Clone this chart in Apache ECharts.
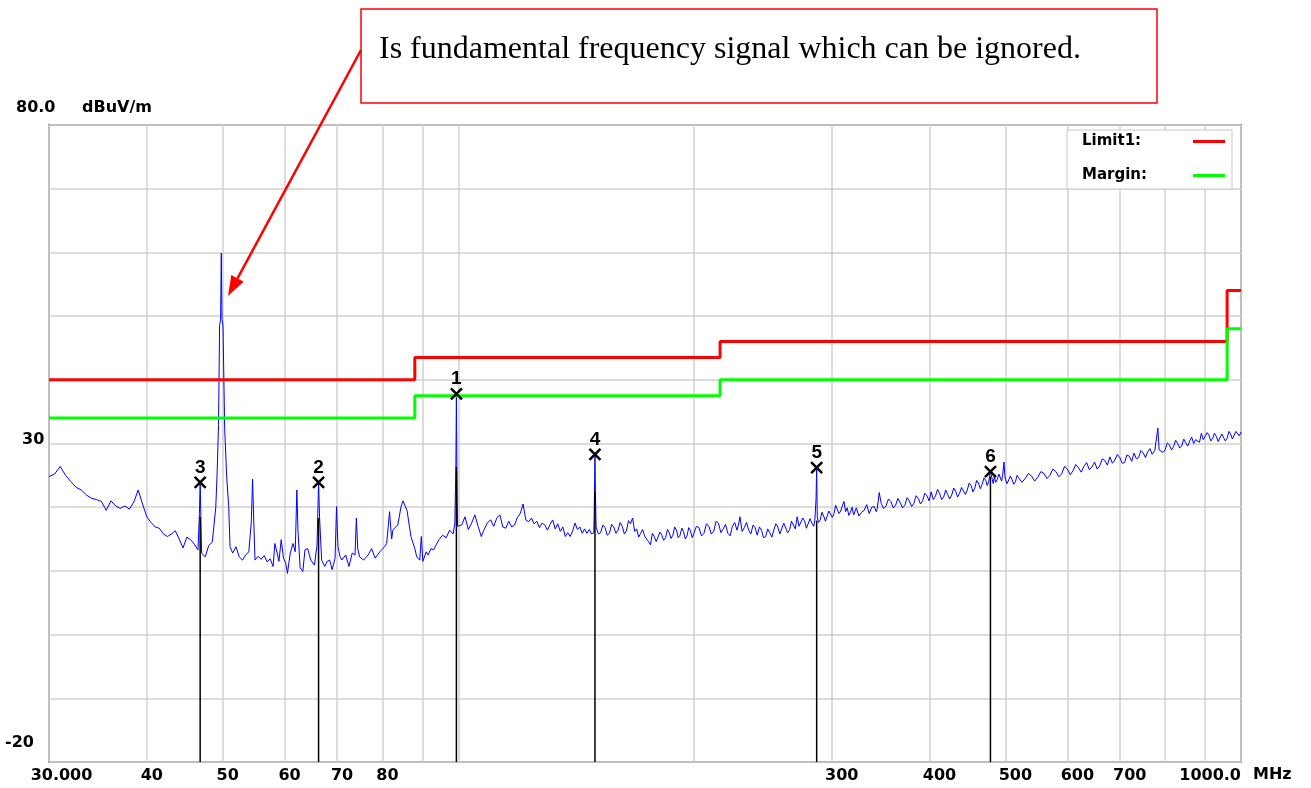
<!DOCTYPE html>
<html>
<head>
<meta charset="utf-8">
<title>Radiated emission scan 30 - 1000 MHz</title>
<script src="https://cdn.jsdelivr.net/npm/echarts@6.0.0/dist/echarts.min.js"></script>
<style>
  html, body { margin: 0; padding: 0; background: #fff; }
  #chart { width: 1311px; height: 788px; }
</style>
</head>
<body>
<div id="chart"></div>
<script>
// axis ticks
const gridFreq = [30, 40, 50, 60, 70, 80, 90, 100, 200, 300, 400, 500, 600, 700, 800, 900, 1000]
const labelFreq = [30, 40, 50, 60, 70, 80, 300, 400, 500, 600, 700, 1000]
const levelLabels = [-20, 30, 80]

// limit line (FCC class B, 3 m) and the 6 dB margin line
const limitFreq = [30, 88, 216, 960, 1000]
const limitLevel = [40, 43.5, 46, 54, 54]
const marginLevel = [34, 37.5, 40, 48, 48]

const traceFreq = [
  30, 30.5, 31, 31.5, 32, 32.5, 33, 33.5, 34, 34.5,
  35, 35.5, 36, 36.5, 37, 37.5, 38, 38.5, 39, 39.5,
  40, 40.5, 41, 41.5, 42, 42.5, 43, 43.5, 44, 44.5,
  45, 45.5, 46, 46.5, 46.7, 46.8, 46.9, 47, 47.5, 48,
  48.5, 49, 49.2, 49.4, 49.55, 49.7, 49.8, 49.9, 50.05, 50.3,
  50.6, 50.9, 51.1, 51.5, 52, 52.5, 53, 53.5, 54, 54.4,
  54.6, 54.8, 55, 55.5, 56, 56.5, 57, 57.5, 58, 58.3,
  58.7, 59, 59.4, 59.8, 60.2, 60.5, 61, 61.5, 61.9, 62.2,
  62.4, 62.8, 63.3, 63.7, 64.2, 64.8, 65.5, 66, 66.3, 66.5,
  66.9, 67.5, 68, 68.5, 69, 69.6, 69.9, 70.2, 70.6, 71,
  71.8, 72.5, 73.2, 73.8, 74.1, 74.4, 74.8, 75.7, 76.7, 77.5,
  78.3, 79.4, 80.5, 81, 81.7, 82.2, 82.5, 83, 83.7, 84.5,
  85, 85.4, 86, 86.3, 87, 88, 88.5, 89.3, 89.7, 90.1,
  91, 91.5, 92.3, 93, 93.6, 94.5, 95.5, 96.5, 97.5, 98.5,
  99, 99.3, 99.45, 99.6, 99.8, 100, 101, 102, 103, 104,
  105, 106, 107, 108, 109, 110, 111, 112, 113, 114,
  115, 116, 117, 118, 119, 120, 121, 122, 123, 124,
  125, 126, 127, 128, 129, 130, 131, 132, 133, 134,
  135, 136, 137, 138, 139, 140, 141, 142, 143, 144,
  145, 146, 147, 148, 149, 149.3, 149.5, 149.7, 150, 151,
  152, 153, 154, 155, 156, 157, 158, 159, 160, 161,
  162, 163, 164, 165, 166, 167, 168, 169, 170, 171,
  172, 173, 174, 175, 176, 177, 178, 179, 180, 181,
  182, 183, 184, 185, 186, 187, 188, 189, 190, 191,
  192, 193, 194, 195, 196, 197, 198, 199, 200, 201.5,
  203, 204.5, 206, 207.5, 209, 210.5, 212, 213.5, 215, 216.5,
  218, 219.5, 221, 222.5, 224, 225.5, 227, 228, 229, 230.5,
  232, 233.5, 235, 236.5, 238, 239.5, 241, 242.5, 244, 245.5,
  247, 248.5, 250, 251.5, 253, 254.5, 256, 257.5, 259, 260.5,
  262, 263.5, 265, 266.5, 268, 269.5, 271, 272.5, 274, 275.5,
  277, 278.5, 280, 281.5, 283, 284.5, 285.5, 286.5, 287, 287.5,
  288.5, 290, 291.5, 293, 294.5, 296, 297.5, 299, 300.5, 302,
  303.5, 305, 306.5, 308, 309.5, 311, 312.5, 314, 315.5, 317,
  318.5, 320, 322.5, 325, 327.5, 330, 332.5, 335, 337.5, 340,
  342, 343, 345, 347, 349.5, 352, 354.5, 357, 359.5, 362,
  364.5, 367, 369.5, 372, 374.5, 377, 379.5, 382, 384.5, 387,
  389.5, 392, 394.5, 397, 399.5, 402, 404.5, 407, 409.5, 412,
  414.5, 417, 419.5, 422, 424.5, 427, 429.5, 432, 434.5, 437,
  439.5, 442, 444.5, 447, 449.5, 452, 454.5, 457, 459.5, 462,
  464.5, 467, 469.5, 472, 474, 476, 478.5, 481, 482.5, 484,
  486, 488, 490.5, 493, 494.5, 496, 498, 499, 500, 502.5,
  505, 507.5, 510, 512.5, 515, 517.5, 520, 525, 530, 535,
  540, 545, 550, 555, 560, 565, 570, 575, 580, 585,
  590, 595, 600, 605, 610, 615, 620, 625, 630, 635,
  640, 645, 650, 655, 660, 665, 670, 675, 680, 685,
  690, 695, 700, 705, 710, 715, 720, 725, 730, 735,
  740, 745, 750, 755, 760, 765, 770, 776, 780, 783,
  786, 790, 795, 800, 805, 810, 815, 820, 825, 830,
  835, 840, 845, 850, 855, 860, 865, 870, 875, 880,
  885, 890, 895, 900, 905, 910, 915, 920, 925, 930,
  935, 940, 945, 950, 955, 960, 965, 970, 975, 980,
  985, 990, 995, 1000
]
const traceLevel = [
  24.8, 25.2, 26.4, 25.0, 24.0, 23.1, 22.7, 21.9, 21.4, 21.2,
  20.9, 19.5, 21.0, 20.2, 19.8, 20.2, 19.7, 20.8, 22.7, 20.5,
  18.5, 17.6, 16.9, 16.7, 15.8, 15.4, 15.8, 16.3, 15.0, 13.6,
  15.3, 14.9, 14.2, 13.3, 19.0, 23.9, 18.5, 12.8, 12.2, 14.0,
  14.5, 20.0, 25.5, 33.0, 48.5, 49.5, 59.9, 49.5, 48.5, 32.4,
  24.8, 20.1, 13.8, 12.8, 13.8, 12.2, 11.7, 12.5, 13.0, 17.7,
  24.4, 17.5, 11.7, 12.3, 11.8, 12.4, 11.4, 11.9, 10.7, 14.3,
  12.8, 11.5, 14.9, 12.0, 11.2, 9.6, 12.8, 14.3, 13.0, 22.7,
  16.4, 10.5, 9.9, 13.3, 13.5, 11.7, 10.9, 14.0, 23.9, 18.3,
  11.7, 10.7, 11.5, 11.7, 10.2, 12.0, 20.1, 13.8, 12.3, 11.7,
  12.5, 10.7, 12.8, 12.5, 18.3, 13.5, 12.2, 11.7, 12.5, 13.5,
  12.0, 13.0, 13.8, 14.3, 19.3, 15.0, 16.4, 16.8, 17.2, 20.1,
  21.0, 21.1, 19.5, 18.3, 15.4, 13.5, 12.2, 11.7, 15.4, 11.5,
  13.0, 12.5, 13.5, 13.3, 14.0, 14.9, 15.6, 15.2, 16.4, 15.8,
  17.5, 26.3, 37.8, 26.0, 17.0, 16.9, 17.2, 18.5, 16.5, 17.5,
  18.8, 17.0, 15.4, 16.6, 17.6, 18.0, 17.0, 18.3, 18.8, 16.9,
  16.7, 17.8, 16.9, 17.2, 18.4, 19.0, 20.5, 18.0, 17.7, 18.3,
  17.4, 17.8, 16.8, 17.5, 17.2, 16.4, 17.3, 18.0, 16.6, 17.4,
  16.2, 16.9, 15.4, 16.0, 15.4, 16.3, 17.5, 16.5, 16.9, 15.9,
  16.6, 15.9, 16.5, 15.8, 16.0, 22.4, 28.3, 22.4, 16.9, 15.8,
  16.0, 17.2, 16.8, 15.6, 15.9, 17.3, 16.9, 15.9, 16.4, 17.6,
  17.0, 15.8, 16.3, 17.9, 17.4, 18.3, 16.2, 16.6, 15.3, 15.9,
  16.5, 15.5, 15.0, 14.6, 14.1, 15.9, 15.4, 14.6, 14.9, 16.1,
  15.6, 14.8, 15.2, 16.5, 16.0, 15.1, 15.6, 16.9, 16.4, 15.2,
  15.6, 16.7, 16.2, 15.0, 15.5, 16.8, 16.3, 15.2, 15.9, 17.0,
  16.8, 15.5, 15.9, 17.4, 17.0, 15.8, 16.2, 17.8, 17.5, 16.0,
  16.6, 17.3, 15.9, 15.5, 17.0, 17.6, 16.4, 17.2, 18.5, 16.2,
  16.8, 17.6, 16.4, 15.8, 17.2, 16.8, 15.6, 16.9, 16.4, 15.2,
  15.4, 16.6, 16.0, 15.3, 16.4, 17.4, 16.9, 15.8, 16.1, 17.5,
  17.2, 16.0, 16.4, 17.8, 17.6, 16.6, 18.5, 17.0, 17.2, 18.3,
  17.8, 16.7, 17.0, 18.2, 17.5, 17.0, 18.0, 21.4, 26.2, 18.5,
  17.6, 18.0, 19.2, 18.6, 17.8, 18.0, 19.4, 19.6, 18.4, 19.0,
  20.3, 20.2, 19.0, 19.4, 20.2, 20.9, 19.3, 19.9, 18.7, 19.2,
  20.0, 18.8, 19.9, 18.6, 19.2, 19.5, 20.4, 19.0, 20.0, 20.1,
  19.3, 19.8, 22.3, 20.6, 19.8, 20.2, 21.3, 20.9, 19.9, 20.3,
  21.4, 20.7, 19.9, 20.3, 21.5, 21.0, 20.1, 20.6, 21.8, 21.4,
  20.5, 21.0, 22.2, 21.8, 21.0, 22.4, 21.2, 21.7, 22.8, 22.2,
  21.2, 21.6, 22.7, 22.0, 21.3, 21.9, 23.0, 22.5, 21.6, 22.2,
  23.1, 23.2, 22.0, 22.7, 23.8, 23.4, 22.4, 23.0, 24.2, 23.8,
  22.9, 23.6, 24.6, 24.2, 23.4, 24.0, 25.6, 24.4, 23.7, 24.8,
  23.9, 24.3, 25.2, 24.9, 24.1, 25.0, 27.1, 25.2, 24.4, 23.7,
  24.0, 24.9, 24.3, 23.6, 24.0, 25.0, 24.6, 23.9, 24.5, 25.3,
  24.9, 24.1, 24.7, 25.6, 25.3, 24.5, 25.0, 26.0, 25.6, 24.8,
  25.2, 26.4, 26.0, 25.1, 25.7, 26.7, 26.2, 25.5, 26.4, 27.0,
  25.9, 26.3, 27.1, 26.0, 26.5, 27.6, 27.3, 26.6, 27.9, 26.9,
  27.4, 28.3, 27.8, 26.9, 27.0, 28.2, 28.0, 27.2, 28.5, 27.6,
  27.8, 28.9, 28.5, 27.8, 28.7, 29.2, 28.3, 28.9, 29.0, 32.4,
  29.0, 29.3, 28.6, 29.0, 30.1, 29.8, 29.0, 29.5, 30.5, 30.0,
  29.3, 29.6, 30.7, 30.1, 29.6, 30.4, 31.0, 30.0, 30.6, 30.8,
  30.2, 31.6, 30.6, 30.9, 31.7, 31.3, 30.4, 30.8, 31.6, 31.1,
  30.3, 30.6, 31.5, 31.2, 30.4, 30.8, 31.9, 31.5, 30.7, 31.0,
  31.9, 31.8, 31.2, 31.8
]

// markers: number, frequency, peak (X) and the level the black marker line reaches
const markerNo = ['1', '2', '3', '4', '5', '6']
const markerFreq = [99.45, 66.3, 46.8, 149.5, 287, 478.5]
const markerPeak = [37.8, 23.9, 23.9, 28.3, 26.2, 25.6]
const markerLine = [26.3, 18.3, 18.5, 22.4, 17.9, 24.8]

const noteText = 'Is fundamental frequency signal which can be ignored.'

const axisFont = { color: '#000', fontFamily: 'DejaVu Sans', fontWeight: 'bold', fontSize: 16 }

const chart = echarts.init(document.getElementById('chart'))

const option = {
  animation: false,
  backgroundColor: '#fff',
  grid: {
    left: 49, right: 70, top: 125, bottom: 26,
    show: true, borderColor: '#8a8a8a', borderWidth: 2, backgroundColor: '#fff'
  },
  legend: {
    data: ['Limit1:', 'Margin:'],
    orient: 'vertical',
    right: 79,
    top: 130,
    align: 'right',
    icon: 'rect',
    itemWidth: 32,
    itemHeight: 3,
    itemGap: 19,
    padding: [4, 7, 6, 15],
    backgroundColor: '#fff',
    borderColor: '#c8c8c8',
    borderWidth: 1,
    selectedMode: false,
    formatter: name => '{n|' + name + '}',
    textStyle: {
      color: '#000', fontFamily: 'DejaVu Sans', fontWeight: 'bold', fontSize: 15, lineHeight: 14,
      rich: { n: { width: 106, align: 'left' } }
    }
  },
  xAxis: {
    type: 'log',
    logBase: 10,
    min: 30,
    max: 1000,
    axisLine: { show: false },
    axisTick: { show: false, customValues: gridFreq },
    splitLine: { show: true, lineStyle: { color: '#d0d0d0', width: 1.5 } },
    axisLabel: Object.assign({
      customValues: labelFreq,
      margin: 6,
      alignMaxLabel: 'right',
      formatter: function (v) {
        const f = Math.round(v)
        if (f === 30) return '{m|30.000}'
        if (f === 1000) return '1000.0'
        if (f >= 100) return '{c|' + f + '}'
        return '{b|' + f + '}'
      },
      rich: {
        m: { padding: [0, 0, 0, 25] },
        b: { padding: [0, 0, 0, 10] },
        c: { padding: [0, 0, 0, 20] }
      }
    }, axisFont)
  },
  yAxis: {
    type: 'value',
    min: -20,
    max: 80,
    interval: 10,
    name: 'dBuV/m',
    nameLocation: 'end',
    nameGap: 17,
    nameTextStyle: Object.assign({ align: 'left', verticalAlign: 'middle', padding: [0, 0, 0, 33] }, axisFont),
    axisLine: { show: false },
    axisTick: { show: false },
    splitLine: { show: true, lineStyle: { color: '#d0d0d0', width: 1.5 } },
    axisLabel: Object.assign({
      customValues: levelLabels,
      showMinLabel: true,
      showMaxLabel: true,
      align: 'left',
      margin: 44,
      formatter: function (v) {
        if (v === 80) return '{t|80.0}'
        if (v === 30) return '{m|30}'
        return '{b|' + v + '}'
      },
      rich: {
        t: { padding: [0, 0, 34, 11] },
        m: { padding: [0, 0, 7, 17] },
        b: { padding: [0, 0, 38, 0] }
      }
    }, axisFont)
  },
  series: [
    {
      name: 'Trace',
      type: 'line',
      data: traceFreq.map((f, i) => [f, traceLevel[i]]),
      symbol: 'none',
      color: '#0000ff',
      lineStyle: { color: '#0000ff', width: 1 },
      z: 2,
      silent: true
    },
    {
      // black marker lines from the bottom of the plot
      name: 'MarkerLine',
      type: 'custom',
      data: markerFreq.map((f, i) => [f, markerLine[i]]),
      renderItem: function (params, api) {
        const bottom = api.coord([api.value(0), -20])
        const top = api.coord([api.value(0), api.value(1)])
        return {
          type: 'line',
          shape: { x1: bottom[0], y1: bottom[1], x2: top[0], y2: top[1] },
          style: { stroke: '#000', lineWidth: 1.5 }
        }
      },
      z: 3,
      silent: true
    },
    {
      name: 'Marker',
      type: 'scatter',
      data: markerFreq.map((f, i) => [f, markerPeak[i]]),
      symbol: 'path://M0,0L10,10M10,0L0,10',
      symbolSize: 11,
      itemStyle: { color: 'rgba(0,0,0,0)', borderColor: '#000', borderWidth: 2.5, opacity: 1 },
      label: {
        show: true,
        position: 'top',
        distance: 1,
        formatter: p => markerNo[p.dataIndex],
        color: '#000',
        fontFamily: 'Liberation Sans',
        fontWeight: 'bold',
        fontSize: 19,
        lineHeight: 14
      },
      z: 6,
      silent: true
    },
    {
      name: 'Limit1:',
      type: 'line',
      step: 'end',
      data: limitFreq.map((f, i) => [f, limitLevel[i]]),
      symbol: 'none',
      color: '#ff0000',
      lineStyle: { color: '#ff0000', width: 3 },
      z: 5
    },
    {
      name: 'Margin:',
      type: 'line',
      step: 'end',
      data: limitFreq.map((f, i) => [f, marginLevel[i]]),
      symbol: 'none',
      color: '#00ff00',
      lineStyle: { color: '#00ff00', width: 3 },
      z: 5
    }
  ],
  graphic: [
    {
      // x-axis unit, next to the last tick label
      type: 'text',
      x: 1253,
      y: 775,
      style: Object.assign({ text: 'MHz', fill: '#000', verticalAlign: 'middle' },
        { fontFamily: 'DejaVu Sans', fontWeight: 'bold', fontSize: 16 })
    },
    {
      type: 'rect',
      shape: { x: 361, y: 9, width: 796, height: 94 },
      style: { fill: '#fff', stroke: '#ff0000', lineWidth: 1.5 },
      z: 100
    },
    {
      type: 'text',
      x: 379,
      y: 50,
      style: { text: noteText, fill: '#000', fontFamily: 'Liberation Serif', fontSize: 32, verticalAlign: 'middle' },
      z: 101
    },
    // arrow from the note to the 50 MHz peak
    {
      type: 'line',
      shape: { x1: 361, y1: 50, x2: 237.5, y2: 278.4 },
      style: { stroke: '#ff0000', lineWidth: 2.5 },
      z: 100
    },
    {
      type: 'polygon',
      shape: { points: [[228, 296], [243.7, 281.7], [231.3, 275.1]] },
      style: { fill: '#ff0000' },
      z: 100
    }
  ]
}

chart.setOption(option)
</script>
</body>
</html>
